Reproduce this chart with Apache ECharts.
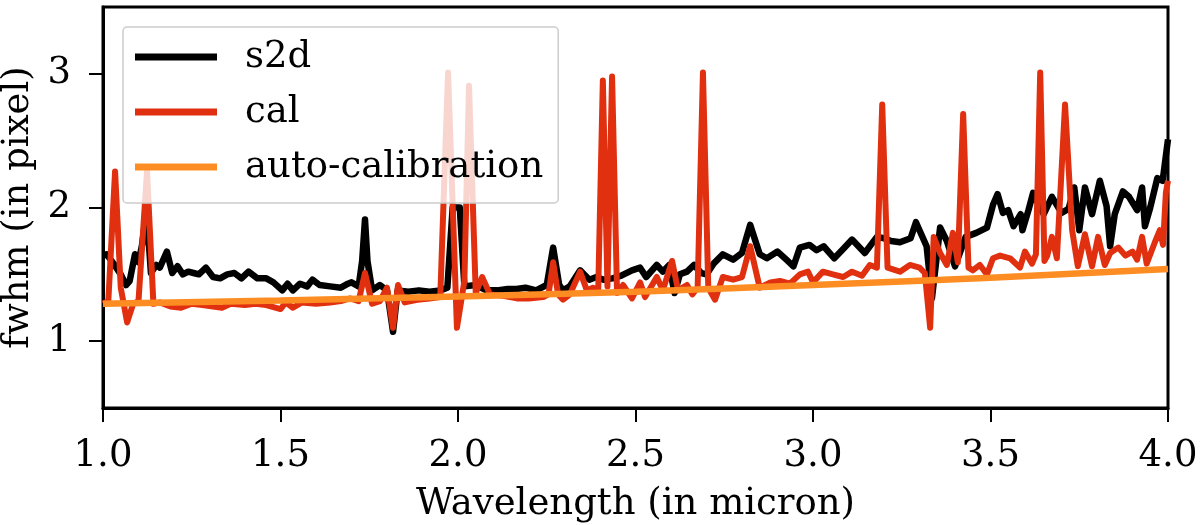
<!DOCTYPE html>
<html>
<head>
    <meta charset="utf-8"/>
    <script src="https://cdn.jsdelivr.net/npm/echarts@6/dist/echarts.min.js"></script>
    <style>
        body { margin: 0; background: #fff; }
    </style>
</head>
<body>
<div id="main" style="width: 1200px;height:525px;"></div>
<script type="text/javascript">
    // wavelength (micron) / fwhm (pixel)
    var s2dWl = [1.00, 1.01, 1.03, 1.05, 1.065, 1.075, 1.09, 1.10, 1.11, 1.12, 1.13, 1.135, 1.15, 1.16, 1.18, 1.195,
        1.21, 1.225, 1.24, 1.255, 1.27, 1.29, 1.31, 1.33, 1.35, 1.37, 1.39, 1.41, 1.435, 1.46, 1.48, 1.505,
        1.52, 1.535, 1.555, 1.575, 1.59, 1.61, 1.64, 1.67, 1.69, 1.70, 1.72, 1.73, 1.738, 1.745, 1.758, 1.78,
        1.80, 1.817, 1.83, 1.86, 1.89, 1.92, 1.95, 1.97, 1.985, 2.005, 2.018, 2.05, 2.08, 2.11, 2.14, 2.165,
        2.19, 2.22, 2.25, 2.268, 2.285, 2.296, 2.315, 2.344, 2.37, 2.39, 2.41, 2.435, 2.46, 2.49, 2.513, 2.53,
        2.56, 2.577, 2.595, 2.61, 2.625, 2.645, 2.665, 2.685, 2.70, 2.72, 2.746, 2.775, 2.80, 2.823, 2.85, 2.87,
        2.90, 2.925, 2.945, 2.963, 2.99, 3.01, 3.03, 3.06, 3.085, 3.11, 3.146, 3.18, 3.20, 3.22, 3.245, 3.275,
        3.29, 3.305, 3.32, 3.335, 3.358, 3.377, 3.40, 3.43, 3.46, 3.49, 3.507, 3.52, 3.535, 3.55, 3.565, 3.585,
        3.59, 3.607, 3.62, 3.65, 3.673, 3.70, 3.72, 3.736, 3.75, 3.766, 3.786, 3.808, 3.827, 3.837, 3.85, 3.873,
        3.89, 3.913, 3.927, 3.935, 3.95, 3.97, 3.985, 4.00];
    var s2dFwhm = [1.64, 1.65, 1.58, 1.50, 1.42, 1.45, 1.65, 1.59, 1.72, 1.93, 1.70, 1.51, 1.57, 1.55, 1.67, 1.51,
        1.56, 1.50, 1.52, 1.51, 1.50, 1.55, 1.48, 1.47, 1.50, 1.51, 1.47, 1.52, 1.47, 1.47, 1.44, 1.38,
        1.43, 1.38, 1.43, 1.41, 1.46, 1.42, 1.41, 1.40, 1.43, 1.44, 1.41, 1.60, 1.91, 1.60, 1.38, 1.42,
        1.38, 1.07, 1.38, 1.37, 1.38, 1.37, 1.38, 1.40, 2.00, 2.00, 1.41, 1.42, 1.38, 1.38, 1.39, 1.39,
        1.40, 1.38, 1.42, 1.70, 1.42, 1.38, 1.41, 1.53, 1.46, 1.48, 1.46, 1.47, 1.49, 1.53, 1.55, 1.48,
        1.57, 1.52, 1.57, 1.36, 1.50, 1.52, 1.57, 1.51, 1.50, 1.58, 1.65, 1.61, 1.66, 1.87, 1.65, 1.62,
        1.67, 1.61, 1.56, 1.70, 1.72, 1.68, 1.71, 1.62, 1.69, 1.76, 1.66, 1.78, 1.77, 1.75, 1.74, 1.77,
        1.89, 1.80, 1.71, 1.32, 1.85, 1.75, 1.56, 1.78, 1.81, 1.85, 2.02, 2.10, 1.96, 1.98, 1.86, 1.95,
        1.83, 1.98, 2.11, 1.95, 2.08, 1.96, 1.99, 2.15, 1.83, 2.15, 1.95, 2.20, 2.01, 1.71, 1.95, 2.12,
        2.08, 1.98, 2.15, 1.86, 2.00, 2.22, 2.20, 2.51];

    var calWl = [1.00, 1.015, 1.034, 1.05, 1.068, 1.085, 1.10, 1.124, 1.142, 1.16, 1.19, 1.22, 1.25, 1.28, 1.31, 1.335,
        1.36, 1.40, 1.43, 1.46, 1.50, 1.515, 1.535, 1.56, 1.60, 1.64, 1.67, 1.696, 1.72, 1.738, 1.758, 1.78,
        1.80, 1.817, 1.831, 1.85, 1.885, 1.92, 1.95, 1.972, 1.997, 2.018, 2.031, 2.05, 2.068, 2.09, 2.127, 2.166,
        2.20, 2.24, 2.255, 2.268, 2.282, 2.296, 2.315, 2.344, 2.363, 2.38, 2.395, 2.408, 2.421, 2.434, 2.448, 2.465,
        2.49, 2.513, 2.527, 2.56, 2.577, 2.603, 2.62, 2.645, 2.66, 2.675, 2.69, 2.705, 2.724, 2.746, 2.775, 2.80,
        2.823, 2.85, 2.88, 2.907, 2.935, 2.963, 2.986, 3.00, 3.028, 3.056, 3.085, 3.11, 3.138, 3.16, 3.18, 3.195,
        3.21, 3.245, 3.273, 3.30, 3.315, 3.33, 3.34, 3.358, 3.377, 3.394, 3.408, 3.423, 3.438, 3.45, 3.47, 3.49,
        3.507, 3.527, 3.555, 3.583, 3.597, 3.617, 3.628, 3.64, 3.652, 3.66, 3.673, 3.687, 3.71, 3.73, 3.746, 3.766,
        3.786, 3.803, 3.822, 3.837, 3.86, 3.88, 3.90, 3.913, 3.927, 3.94, 3.963, 3.977, 3.986, 3.994, 4.00];
    var calFwhm = [1.28, 1.30, 2.27, 1.40, 1.14, 1.28, 1.30, 2.27, 1.28, 1.29, 1.26, 1.25, 1.28, 1.27, 1.26, 1.25,
        1.28, 1.27, 1.28, 1.27, 1.24, 1.29, 1.25, 1.29, 1.28, 1.29, 1.30, 1.32, 1.30, 1.51, 1.28, 1.30,
        1.40, 1.10, 1.42, 1.29, 1.31, 1.32, 1.33, 3.01, 1.10, 1.45, 2.91, 1.36, 1.48, 1.35, 1.34, 1.32,
        1.32, 1.33, 1.35, 1.59, 1.35, 1.31, 1.35, 1.52, 1.38, 1.40, 1.38, 2.95, 1.41, 2.98, 1.36, 1.42,
        1.32, 1.44, 1.33, 1.48, 1.38, 1.60, 1.38, 1.42, 1.35, 1.40, 3.01, 1.40, 1.31, 1.48, 1.46, 1.48,
        1.71, 1.40, 1.44, 1.45, 1.43, 1.50, 1.52, 1.44, 1.52, 1.50, 1.48, 1.52, 1.49, 1.57, 1.55, 2.77,
        1.55, 1.52, 1.57, 1.55, 1.51, 1.10, 1.78, 1.66, 1.57, 1.81, 1.59, 2.70, 1.55, 1.53, 1.57, 1.50,
        1.62, 1.64, 1.62, 1.55, 1.67, 1.58, 1.65, 3.01, 1.60, 1.64, 1.78, 1.62, 2.77, 1.83, 1.56, 1.80,
        1.56, 1.78, 1.57, 1.66, 1.70, 1.64, 1.67, 1.61, 1.78, 1.58, 1.74, 1.83, 1.72, 2.11, 2.20];

    var autoWl = [1.0, 1.5, 2.0, 2.5, 3.0, 3.5, 4.0];
    var autoFwhm = [1.28, 1.305, 1.335, 1.37, 1.42, 1.475, 1.54];

    var xTicks = [1.0, 1.5, 2.0, 2.5, 3.0, 3.5, 4.0];
    var yTicks = [1, 2, 3];

    function pairs(xs, ys) {
        var out = [];
        for (var i = 0; i < xs.length; i++) out.push([xs[i], ys[i]]);
        return out;
    }

    var font = 'DejaVu Serif';
    var myChart = echarts.init(document.getElementById('main'));

    option = {
        animation: false,
        textStyle: {fontFamily: font},
        grid: {
            left: 103, right: 32, top: 7, bottom: 117,
            outerBoundsMode: 'none',
            containLabel: false,
            show: true, borderColor: '#000', borderWidth: 3
        },
        legend: {
            orient: 'vertical',
            left: 123, top: 27,
            padding: [10, 15, 16, 12],
            itemGap: 15,
            itemWidth: 82,
            itemHeight: 7,
            icon: 'rect',
            backgroundColor: 'rgba(255,255,255,0.8)',
            borderColor: '#cccccc',
            borderWidth: 1.5,
            borderRadius: 4,
            textStyle: {fontFamily: font, fontSize: 37, color: '#000', lineHeight: 40, padding: [0, 0, 0, 23]},
            data: ['s2d', 'cal', 'auto-calibration']
        },
        xAxis: {
            type: 'value',
            min: 1, max: 4, interval: 0.5,
            name: 'Wavelength (in micron)',
            nameLocation: 'middle',
            nameGap: 78,
            nameTextStyle: {fontFamily: font, fontSize: 37, color: '#000'},
            axisLine: {lineStyle: {color: '#000', width: 3}},
            axisTick: {customValues: xTicks, length: 14, lineStyle: {color: '#000', width: 2}},
            axisLabel: {
                customValues: xTicks, margin: 30,
                fontFamily: font, fontSize: 37, color: '#000',
                formatter: function (v) { return v.toFixed(1); }
            },
            splitLine: {show: false}
        },
        yAxis: {
            type: 'value',
            min: 0.5, max: 3.5,
            name: 'fwhm (in pixel)',
            nameLocation: 'middle',
            nameGap: 58,
            nameTextStyle: {fontFamily: font, fontSize: 37, color: '#000'},
            axisLine: {show: true, lineStyle: {color: '#000', width: 3}},
            axisTick: {show: true, customValues: yTicks, length: 14, lineStyle: {color: '#000', width: 2}},
            axisLabel: {customValues: yTicks, margin: 32, fontFamily: font, fontSize: 37, color: '#000'},
            splitLine: {show: false}
        },
        series: [
            {
                name: 's2d', type: 'line', symbol: 'none',
                data: pairs(s2dWl, s2dFwhm),
                itemStyle: {color: '#000000'},
                lineStyle: {color: '#000000', width: 6.5, join: 'round'}
            },
            {
                name: 'cal', type: 'line', symbol: 'none',
                data: pairs(calWl, calFwhm),
                itemStyle: {color: '#e03010'},
                lineStyle: {color: '#e03010', width: 6, join: 'round'}
            },
            {
                name: 'auto-calibration', type: 'line', symbol: 'none',
                data: pairs(autoWl, autoFwhm),
                smooth: true,
                itemStyle: {color: '#fd8d22'},
                lineStyle: {color: '#fd8d22', width: 6.5}
            }
        ]
    };

    myChart.setOption(option);
</script>
</body>
</html>
